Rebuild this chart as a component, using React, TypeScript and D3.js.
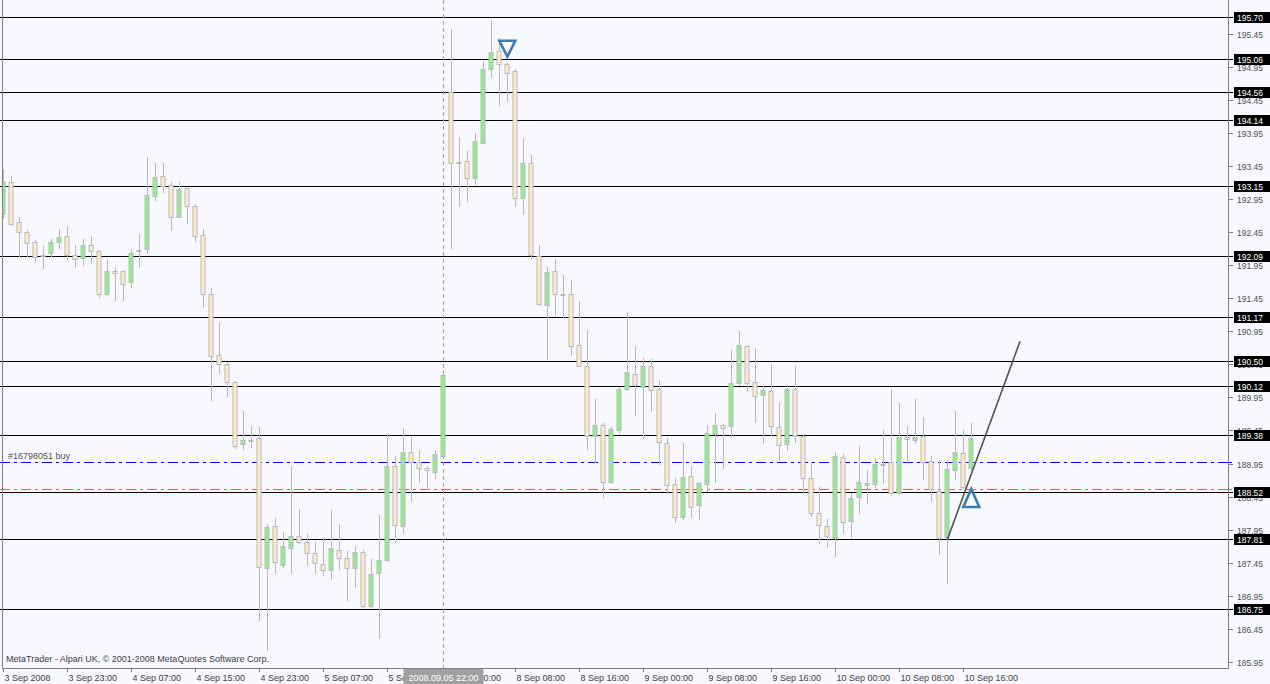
import React from 'react';
import * as d3 from 'd3';

const W = 1270;
const H = 684;

// OHLC of the H1 bars (GBPJPY style)
const opens = [
  192.72, 193.20, 192.60, 192.45, 192.30, 192.10, 192.13, 192.30, 192.39, 192.10,
  192.05, 192.25, 192.16, 191.52, 191.86, 191.86, 191.69, 192.18, 192.19, 192.99,
  193.30, 193.16, 192.68, 193.11, 192.84, 192.40, 191.52, 190.59, 190.46, 190.19,
  189.24, 189.30, 189.33, 187.37, 188.00, 187.41, 187.67, 187.85, 187.77, 187.60,
  187.43, 187.34, 187.65, 187.52, 187.37, 187.62, 186.79, 187.29, 187.49, 188.91,
  188.00, 189.12, 188.97, 188.88, 188.82, 189.07, 194.56, 193.49, 193.53, 193.26,
  193.80, 194.92, 195.18, 194.99, 194.88, 192.96, 193.50, 192.08, 191.34, 191.86,
  191.50, 191.51, 190.74, 190.43, 189.36, 189.53, 188.67, 189.45, 190.07, 190.31,
  190.10, 190.43, 190.07, 189.26, 188.64, 188.14, 188.76, 188.32, 188.64, 189.40,
  189.53, 189.51, 190.17, 190.72, 190.19, 189.98, 190.04, 189.50, 189.24, 190.07,
  189.36, 188.73, 188.20, 188.00, 187.82, 189.05, 188.08, 188.44, 188.62, 188.64,
  188.95, 188.97, 188.50, 189.35, 189.30, 189.36, 188.99, 188.54, 187.84, 188.85,
  189.11, 188.88,
];
const highs = [
  193.40, 193.30, 192.68, 192.48, 192.33, 192.24, 192.34, 192.50, 192.54, 192.26,
  192.34, 192.39, 192.18, 192.04, 191.92, 191.87, 192.19, 192.42, 193.59, 193.49,
  193.49, 193.21, 193.21, 193.12, 192.87, 192.50, 191.60, 191.09, 190.48, 190.20,
  189.74, 189.51, 189.50, 188.04, 188.12, 187.91, 188.91, 188.26, 187.88, 187.76,
  187.82, 188.25, 188.03, 187.63, 187.71, 187.65, 187.51, 188.17, 189.39, 189.06,
  189.49, 189.35, 189.15, 188.91, 189.15, 190.30, 195.52, 193.89, 193.67, 193.95,
  195.04, 195.65, 195.38, 195.00, 194.92, 193.87, 193.62, 192.26, 191.92, 192.04,
  191.80, 191.73, 191.41, 190.97, 189.92, 189.56, 189.50, 190.10, 191.24, 190.73,
  190.54, 190.53, 190.22, 189.34, 188.73, 189.26, 188.91, 188.67, 189.53, 189.72,
  189.55, 190.66, 190.96, 190.74, 190.69, 190.13, 190.45, 189.88, 190.13, 190.42,
  189.39, 188.97, 188.59, 188.11, 189.12, 189.09, 188.50, 189.21, 188.85, 189.03,
  189.46, 190.07, 189.86, 189.51, 189.92, 189.66, 189.06, 189.01, 189.01, 189.74,
  189.45, 189.56,
];
const lows = [
  192.66, 192.56, 192.07, 192.07, 192.00, 191.91, 192.07, 192.21, 192.04, 191.92,
  191.95, 191.98, 191.47, 191.50, 191.42, 191.42, 191.62, 191.92, 192.13, 192.94,
  193.06, 192.48, 192.67, 192.59, 192.32, 191.32, 189.91, 190.32, 189.97, 189.19,
  189.17, 189.20, 186.58, 186.13, 187.30, 187.39, 187.30, 187.75, 187.41, 187.30,
  187.27, 187.21, 187.36, 186.88, 187.08, 186.78, 186.78, 186.31, 187.48, 187.77,
  187.90, 188.39, 188.67, 188.56, 188.73, 189.06, 192.21, 192.85, 192.92, 193.18,
  193.80, 194.80, 194.37, 194.43, 192.85, 192.72, 192.06, 191.34, 190.53, 191.19,
  191.15, 190.59, 190.42, 189.17, 188.98, 188.45, 188.66, 189.41, 190.06, 189.69,
  189.33, 189.74, 188.94, 188.50, 188.07, 188.11, 188.14, 188.11, 188.54, 188.67,
  188.88, 189.35, 190.13, 190.04, 189.58, 189.26, 189.38, 189.00, 189.15, 189.27,
  188.50, 188.15, 187.75, 187.69, 187.55, 187.90, 187.84, 188.20, 188.35, 188.59,
  188.65, 188.47, 188.49, 188.96, 189.26, 188.71, 188.38, 187.58, 187.14, 188.71,
  188.58, 188.85,
];
const closes = [
  193.22, 192.57, 192.45, 192.28, 192.07, 192.09, 192.30, 192.37, 192.10, 192.04,
  192.25, 192.16, 191.51, 191.86, 191.83, 191.67, 192.13, 192.16, 193.01, 193.28,
  193.15, 192.67, 193.10, 192.85, 192.39, 191.52, 190.57, 190.45, 190.18, 189.21,
  189.30, 189.29, 187.39, 187.99, 187.46, 187.70, 187.86, 187.77, 187.60, 187.44,
  187.34, 187.67, 187.52, 187.37, 187.61, 186.79, 187.28, 187.49, 188.92, 188.02,
  189.12, 188.97, 188.88, 188.85, 189.09, 190.29, 193.49, 193.51, 193.27, 193.82,
  194.92, 195.17, 194.99, 194.86, 192.96, 193.49, 192.10, 191.36, 191.84, 191.51,
  191.52, 190.72, 190.43, 189.36, 189.53, 188.67, 189.47, 190.07, 190.33, 190.13,
  190.43, 190.06, 189.27, 188.62, 188.14, 188.74, 188.30, 188.65, 189.41, 189.53,
  189.48, 190.17, 190.74, 190.17, 189.97, 190.06, 189.51, 189.23, 190.07, 189.36,
  188.73, 188.20, 188.02, 187.85, 189.06, 188.06, 188.43, 188.67, 188.65, 188.94,
  188.94, 188.50, 189.35, 189.32, 189.35, 188.98, 188.56, 187.83, 188.86, 189.12,
  188.59, 189.33,
];

// time axis labels, one every 8 bars
const timeLabels = [
  '3 Sep 2008', '3 Sep 23:00', '4 Sep 07:00', '4 Sep 15:00', '4 Sep 23:00', '5 Sep 07:00',
  '5 Sep 15:00', '8 Sep 00:00', '8 Sep 08:00', '8 Sep 16:00', '9 Sep 00:00', '9 Sep 08:00',
  '9 Sep 16:00', '10 Sep 00:00', '10 Sep 08:00', '10 Sep 16:00',
];
const labelStep = 8;

// price axis
const priceTicks = [
  '195.45', '194.95', '194.45', '193.95', '193.45', '192.95', '192.45', '191.95', '191.45', '190.95',
  '190.45', '189.95', '189.45', '188.95', '188.45', '187.95', '187.45', '186.95', '186.45', '185.95',
];
const levelPrices = [195.70, 195.06, 194.56, 194.14, 193.15, 192.09, 191.17, 190.50, 190.12, 189.38, 188.52, 187.81, 186.75];

// objects on the chart
const orderPrice = 188.97;
const orderLabel = '#16798051 buy';
const stopPrice = 188.56;
const cursorBar = 55;
const cursorLabel = '2008.09.05 22:00';
const trendBars = [118, 127.1];
const trendPrices = [187.80, 190.80];
const sellArrow = { bar: 63, price: 195.10 };
const buyArrow = { bar: 121, price: 188.58 };
const copyright = 'MetaTrader - Alpari UK, © 2001-2008 MetaQuotes Software Corp.';

const FONT = '"Liberation Sans", Arial, sans-serif';

export default function App() {
  const plotRight = 1228;
  const plotBottom = 668;
  const x = d3.scaleLinear().domain([0, 121]).range([3.3, 971.3]);
  const y = d3.scaleLinear().domain([185.95, 195.7]).range([662, 17]);
  const px = (v: number) => Math.round(v) + 0.5;

  const bars = opens.map((o, i) => ({ o, h: highs[i], l: lows[i], c: closes[i], i }));
  const trendLine = d3.line<number>()
    .x((_, k) => x(trendBars[k]))
    .y((p) => y(p));

  const sx = x(sellArrow.bar);
  const sy = y(sellArrow.price);
  const bx = x(buyArrow.bar);
  const by = y(buyArrow.price);
  const cursorX = px(x(cursorBar));

  return (
    <svg width={W} height={H} style={{ position: 'absolute', left: 0, top: 0, display: 'block' }}
      fontFamily={FONT}>
      <defs>
        <clipPath id="plot">
          <rect x={2} y={0} width={plotRight - 2} height={plotBottom} />
        </clipPath>
      </defs>
      <rect x={0} y={0} width={W} height={H} fill="#F8F8FF" />

      {/* horizontal level lines */}
      {levelPrices.map((p) => (
        <line key={p} x1={0} x2={1233} y1={px(y(p))} y2={px(y(p))} stroke="#000" strokeWidth={1} />
      ))}

      {/* order and stop lines */}
      <line x1={0} x2={plotRight} y1={px(y(orderPrice))} y2={px(y(orderPrice))}
        stroke="#0000FF" strokeWidth={1} strokeDasharray="10,4,3,4" />
      <text x={8} y={px(y(orderPrice)) - 4} fontSize={9} fill="#555">{orderLabel}</text>
      <line x1={0} x2={plotRight} y1={px(y(stopPrice))} y2={px(y(stopPrice))}
        stroke="#E2604C" strokeWidth={1} strokeDasharray="10,4,3,4" />

      {/* cursor vertical line */}
      <line x1={cursorX} x2={cursorX} y1={0} y2={plotBottom} stroke="#A0A0A0" strokeDasharray="4,3" />

      <g clipPath="url(#plot)">
        {bars.map((b) => {
          const cx = px(x(b.i));
          const top = Math.round(y(Math.max(b.o, b.c)));
          const bot = Math.round(y(Math.min(b.o, b.c)));
          const bull = b.c > b.o;
          return (
            <g key={b.i}>
              <line x1={cx} x2={cx} y1={Math.round(y(b.h))} y2={Math.round(y(b.l)) + 1} stroke="#B9B9B9" />
              {bot - top >= 2 ? (
                <rect x={cx - 2.5} y={top + 0.5} width={4} height={bot - top}
                  fill={bull ? '#90EE90' : '#FFEBCD'} stroke="#B9B9B9" strokeWidth={1} />
              ) : (
                <rect x={cx - 2.5} y={top + 0.5} width={4} height={1}
                  fill={bull ? '#90EE90' : '#FFEBCD'} stroke="#B9B9B9" strokeWidth={1} />
              )}
            </g>
          );
        })}
        <path d={trendLine(trendPrices) || ''} fill="none" stroke="#555" strokeWidth={1.6} />
        {/* sell arrow (down) */}
        <path d={`M${sx - 8},${sy - 16} L${sx + 8},${sy - 16} L${sx},${sy} Z`}
          fill="none" stroke="#3E7CB4" strokeWidth={2.6} strokeLinejoin="miter" />
        {/* buy arrow (up) */}
        <path d={`M${bx},${by + 1} L${bx + 8},${by + 19} L${bx - 8},${by + 19} Z`}
          fill="none" stroke="#3E7CB4" strokeWidth={2.6} strokeLinejoin="miter" />
      </g>

      {/* frame */}
      <line x1={2.5} x2={2.5} y1={0} y2={plotBottom} stroke="#808080" />
      <line x1={plotRight + 0.5} x2={plotRight + 0.5} y1={0} y2={plotBottom + 0.5} stroke="#808080" />
      <line x1={2} x2={plotRight + 1} y1={plotBottom + 0.5} y2={plotBottom + 0.5} stroke="#808080" />

      <text x={6} y={662} fontSize={9} fill="#404040">{copyright}</text>

      {/* price axis */}
      {priceTicks.map((t) => {
        const yy = px(y(+t));
        return (
          <g key={t}>
            <line x1={1229} x2={1233} y1={yy} y2={yy} stroke="#808080" />
            <text x={1237} y={yy + 3} fontSize={8.5} fill="#505050">{t}</text>
          </g>
        );
      })}
      <line x1={1229} x2={1232} y1={px(y(orderPrice))} y2={px(y(orderPrice))} stroke="#0000FF" />
      <line x1={1229} x2={1232} y1={px(y(stopPrice))} y2={px(y(stopPrice))} stroke="#E2604C" />
      {levelPrices.map((p) => {
        const yy = Math.round(y(p));
        return (
          <g key={'l' + p}>
            <rect x={1234} y={yy - 5} width={36} height={11} fill="#000" />
            <text x={1237} y={yy + 3.5} fontSize={8.5} fill="#fff">{p.toFixed(2)}</text>
          </g>
        );
      })}

      {/* time axis */}
      {timeLabels.map((t, k) => {
        const xx = px(x(k * labelStep));
        return (
          <g key={t}>
            <line x1={xx} x2={xx} y1={plotBottom} y2={plotBottom + 4} stroke="#808080" />
            <text x={xx + 1} y={681} fontSize={9} fill="#404040">{t}</text>
          </g>
        );
      })}
      <rect x={cursorX - 40} y={669} width={80} height={15} fill="#A0A0A0" />
      <text x={cursorX} y={681} fontSize={9} fill="#fff" textAnchor="middle">{cursorLabel}</text>
    </svg>
  );
}
